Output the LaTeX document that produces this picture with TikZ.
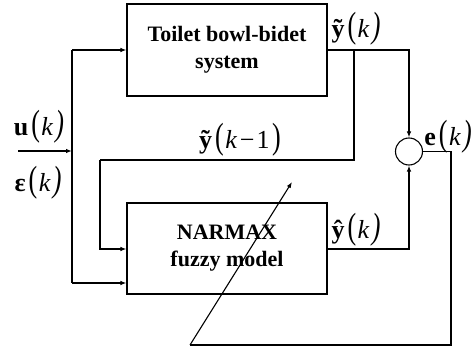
\documentclass[tikz,border=0pt]{standalone}
\usepackage{fontspec}
\setmainfont{Liberation Serif}
\usetikzlibrary{arrows.meta}

% tall delimiters around the time index
\newcommand\lpar{\scalebox{1}[1.4]{(}}
\newcommand\rpar{\scalebox{1}[1.4]{)}}
% signal labels: bold vector symbol, upright delimiters, italic argument
\newcommand\sig[2]{{\bfseries #1}\kern3pt\lpar\kern1.5pt#2\kern2.5pt\rpar}

\begin{document}
\begin{tikzpicture}[x=1pt,y=-1pt,
  wire/.style={line width=1.1pt},
  arr/.style={wire,-{Latex[length=6pt,width=4.5pt]}},
  block/.style={draw,line width=1.1pt,minimum width=200pt,align=center,
    font=\fontsize{22}{27}\selectfont\bfseries},
  lab/.style={font=\fontsize{26}{28}\selectfont,inner sep=0pt}]
\useasboundingbox (0,0) rectangle (472,350);

% blocks and summing junction
\node[block,minimum height=92pt] (sys) at (227,50) {Toilet bowl-bidet\\system};
\node[block,minimum height=91pt] (nar) at (227,248.5) {NARMAX\\fuzzy model};
\node[draw,circle,line width=1.1pt,minimum size=27pt,inner sep=0pt] (sum) at (409,151.5) {};

% routing points
\coordinate (in) at (18,151);
\coordinate (j) at (72,151);
\coordinate (tap) at (354,50);
\coordinate (fb) at (100,160);
\coordinate (ecorner) at (451,151.5);
\coordinate (ebottom) at (451,345);
\coordinate (eleft) at (190,345);
\coordinate (tip) at (292,182);

% input distribution
\draw[arr] (in) -- (j);
\draw[arr] (j |- sys.west) -- (sys.west);
\draw[wire] (j |- sys.west) -- (72,283);
\draw[arr] (72,283) -- (nar.west |- 72,283);

% plant output to summing junction
\draw[arr] (sys.east) -| (sum.north);

% delayed output fed back into the model
\draw[wire] (tap) |- (fb);
\draw[arr] (fb) |- (nar.west |- 0,249);

% model output to summing junction
\draw[arr] (nar.east |- 0,249) -| (sum.south);

% error path adapting the model
\draw[wire] (sum.east) -- (ecorner) -- (ebottom) -- (eleft);
\draw[arr] (eleft) -- (tip);

% labels
\node[lab] (lyt) at (356,29) {\sig{\~{y}}{\itshape k}};
\node[lab] (lyd) at (240,140) {\sig{\~{y}}{{\itshape k}\kern3pt−\kern2pt1}};
\node[lab] (le) at (448,137) {\sig{e}{\itshape k}};
\node[lab] (lu) at (39,127) {\sig{u}{\itshape k}};
\node[lab] (leps) at (38,183) {\sig{ε}{\itshape k}};
\node[lab] (lyh) at (356,230) {\sig{\^{y}}{\itshape k}};
\end{tikzpicture}
\end{document}
